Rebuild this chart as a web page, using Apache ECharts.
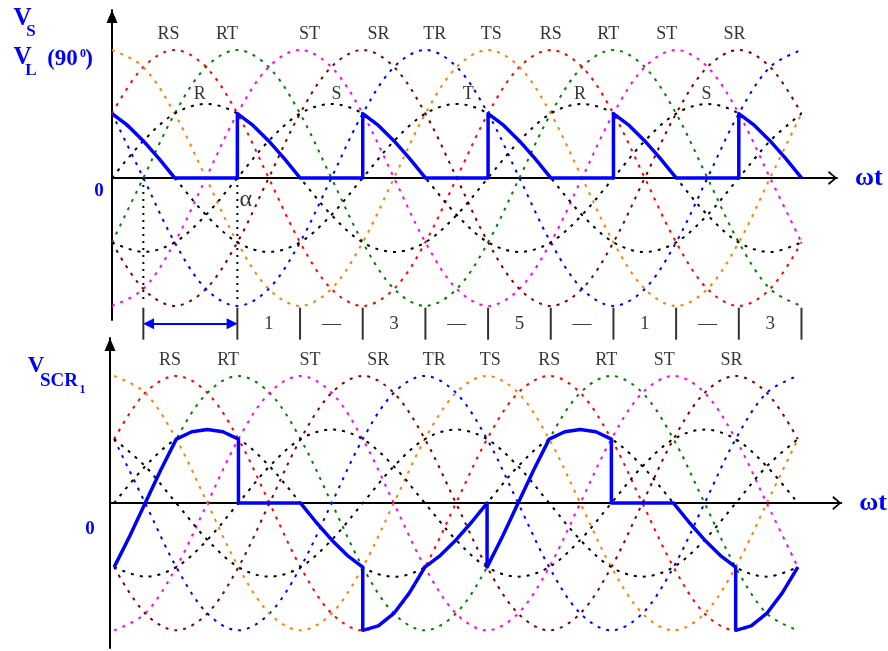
<!DOCTYPE html>
<html>
<head>
<meta charset="utf-8">
<script src="https://cdn.jsdelivr.net/npm/echarts@6/dist/echarts.min.js"></script>
<style>
  html, body { margin: 0; padding: 0; background: #ffffff; }
  #chart { width: 888px; height: 651px; }
</style>
</head>
<body>
<div id="chart"></div>
<script>
// Electrical angle samples (degrees) of the supply waveforms
const angles = [0, 30, 60, 90, 120, 150, 180, 210, 240, 270, 300, 330, 360, 390, 420, 450, 480, 510, 540, 570, 600, 630, 660];

// Line-to-line voltages (phase peak = 100)
const vRS = [87, 150, 173, 150, 87, 0, -87, -150, -173, -150, -87, 0, 87, 150, 173, 150, 87, 0, -87, -150, -173, -150, -87];
const vRT = [-87, 0, 87, 150, 173, 150, 87, 0, -87, -150, -173, -150, -87, 0, 87, 150, 173, 150, 87, 0, -87, -150, -173];
const vST = [-173, -150, -87, 0, 87, 150, 173, 150, 87, 0, -87, -150, -173, -150, -87, 0, 87, 150, 173, 150, 87, 0, -87];
const vSR = [-87, -150, -173, -150, -87, 0, 87, 150, 173, 150, 87, 0, -87, -150, -173, -150, -87, 0, 87, 150, 173, 150, 87];
const vTR = [87, 0, -87, -150, -173, -150, -87, 0, 87, 150, 173, 150, 87, 0, -87, -150, -173, -150, -87, 0, 87, 150, 173];
const vTS = [173, 150, 87, 0, -87, -150, -173, -150, -87, 0, 87, 150, 173, 150, 87, 0, -87, -150, -173, -150, -87, 0, 87];

// Phase voltages
const vR = [0, 50, 87, 100, 87, 50, 0, -50, -87, -100, -87, -50, 0, 50, 87, 100, 87, 50, 0, -50, -87, -100, -87];
const vS = [-87, -100, -87, -50, 0, 50, 87, 100, 87, 50, 0, -50, -87, -100, -87, -50, 0, 50, 87, 100, 87, 50, 0];
const vT = [87, 50, 0, -50, -87, -100, -87, -50, 0, 50, 87, 100, 87, 50, 0, -50, -87, -100, -87, -50, 0, 50, 87];

// Load voltage V_L, firing angle 90°
const loadAngles = [0, 15, 30, 45, 60, 120, 120, 135, 150, 165, 180, 240, 240, 255, 270, 285, 300, 360, 360, 375, 390, 405, 420, 480, 480, 495, 510, 525, 540, 600, 600, 615, 630, 645, 660];
const loadValues = [87, 71, 50, 26, 0, 0, 87, 71, 50, 26, 0, 0, 87, 71, 50, 26, 0, 0, 87, 71, 50, 26, 0, 0, 87, 71, 50, 26, 0, 0, 87, 71, 50, 26, 0];

// Voltage across SCR1
const scrAngles = [0, 15, 30, 45, 60, 75, 90, 105, 120, 120, 180, 195, 210, 225, 240, 240, 255, 270, 285, 300, 315, 330, 345, 360, 360, 375, 390, 405, 420, 435, 450, 465, 480, 480, 540, 555, 570, 585, 600, 600, 615, 630, 645, 660];
const scrValues = [-87, -45, 0, 45, 87, 97, 100, 97, 87, 0, 0, -26, -50, -71, -87, -173, -167, -150, -122, -87, -71, -50, -26, 0, -87, -45, 0, 45, 87, 97, 100, 97, 87, 0, 0, -26, -50, -71, -87, -173, -167, -150, -122, -87];

// Curve names
const lineNames = ['RS', 'RT', 'ST', 'SR', 'TR', 'TS', 'RS', 'RT', 'ST', 'SR'];
const lineNameAngles = [54, 110, 189, 255, 309, 363, 420, 475, 531, 596];
const phaseNames = ['R', 'S', 'T', 'R', 'S'];
const phaseNameAngles = [84, 215, 341, 448, 569];

// Conducting-thyristor sequence under the load waveform
const intervalTicks = [30, 120, 180, 240, 300, 360, 420, 480, 540, 600, 660];
const intervalLabels = ['1', '—', '3', '—', '5', '—', '1', '—', '3'];
const intervalLabelAngles = [150, 210, 270, 330, 390, 450, 510, 570, 630];

// Natural commutation point and firing point of SCR1
const commutationAngle = 30;
const firingAngle = 120;

const serif = '"Liberation Serif", "Times New Roman", serif';
const BLUE = '#0000ff';

const curveStyles = [
  { data: vRS, color: '#ff0000' },
  { data: vRT, color: '#008000' },
  { data: vST, color: '#ff00ff' },
  { data: vSR, color: '#800000' },
  { data: vTR, color: '#0000ff' },
  { data: vTS, color: '#ff8000' },
  { data: vR, color: '#000000' },
  { data: vS, color: '#000000' },
  { data: vT, color: '#000000' }
];

// Panel layout: top = V_S / V_L, bottom = V_SCR1
const panels = [
  { left: 112, top: 10, width: 725, height: 310, xMin: 0, xMax: 694, yMin: -192, yMax: 227 },
  { left: 110, top: 338, width: 738, height: 310, xMin: -4, xMax: 702, yMin: -197, yMax: 224.5 }
];

const chevron = 'path://M0,8 L7,0 L14,8 L12.4,9 L7,2.4 L1.6,9 Z';

const grid = panels.map(p => ({ left: p.left, top: p.top, width: p.width, height: p.height }));

const xAxis = panels.map((p, i) => ({
  type: 'value', gridIndex: i, min: p.xMin, max: p.xMax,
  axisLine: {
    show: true, onZero: true,
    lineStyle: { color: '#000', width: 2 },
    symbol: ['none', chevron], symbolSize: [14, 9], symbolOffset: [0, -4.5]
  },
  axisTick: { show: false }, axisLabel: { show: false }, splitLine: { show: false },
  name: 'ωt', nameLocation: 'end', nameGap: 18,
  nameTextStyle: { color: BLUE, fontFamily: serif, fontWeight: 'bold', fontSize: 26 }
}));

const yAxis = panels.map((p, i) => ({
  type: 'value', gridIndex: i, min: p.yMin, max: p.yMax,
  axisLine: {
    show: true, onZero: false,
    lineStyle: { color: '#000', width: 2 },
    symbol: ['none', 'triangle'], symbolSize: [11, 13], symbolOffset: [0, -6.5]
  },
  axisTick: { show: false }, axisLabel: { show: false }, splitLine: { show: false }
}));

const series = [];

// Dotted supply waveforms in both panels
panels.forEach((p, i) => {
  curveStyles.forEach(c => {
    series.push({
      type: 'line', xAxisIndex: i, yAxisIndex: i,
      data: angles.map((a, k) => [a, c.data[k]]),
      smooth: 0.34, symbol: 'none', silent: true, z: 2,
      lineStyle: { color: c.color, width: 2, type: [3, 6] }
    });
  });
});

// Vertical guides at the commutation and firing points
[commutationAngle, firingAngle].forEach(a => {
  series.push({
    type: 'line', xAxisIndex: 0, yAxisIndex: 0,
    data: [[a, 0], [a, -165]], symbol: 'none', silent: true, z: 2,
    lineStyle: { color: '#000', width: 2, type: [2, 5] }
  });
});

// Load voltage V_L
series.push({
  type: 'line', xAxisIndex: 0, yAxisIndex: 0,
  data: loadAngles.map((a, k) => [a, loadValues[k]]),
  symbol: 'none', silent: true, z: 5,
  lineStyle: { color: BLUE, width: 3.5, join: 'round' }
});

// Voltage across SCR1
series.push({
  type: 'line', xAxisIndex: 1, yAxisIndex: 1,
  data: scrAngles.map((a, k) => [a, scrValues[k]]),
  symbol: 'none', silent: true, z: 5,
  lineStyle: { color: BLUE, width: 3.5, join: 'round' }
});

// Curve names above both panels
const textLabel = (size, color) => ({
  show: true, position: 'inside', formatter: '{b}',
  color: color || '#000', fontFamily: serif, fontSize: size
});

panels.forEach((p, i) => {
  series.push({
    type: 'scatter', xAxisIndex: i, yAxisIndex: i, clip: false, silent: true, z: 6,
    symbolSize: 1, itemStyle: { color: 'rgba(0,0,0,0)' },
    data: lineNames.map((n, k) => ({ name: n, value: [lineNameAngles[k], 194] })),
    label: textLabel(18)
  });
});

// Phase names and the firing-angle symbol in the top panel
series.push({
  type: 'scatter', xAxisIndex: 0, yAxisIndex: 0, clip: false, silent: true, z: 6,
  symbolSize: 1, itemStyle: { color: 'rgba(0,0,0,0)' },
  data: phaseNames.map((n, k) => ({ name: n, value: [phaseNameAngles[k], 113] })),
  label: textLabel(18)
});
series.push({
  type: 'scatter', xAxisIndex: 0, yAxisIndex: 0, clip: false, silent: true, z: 6,
  symbolSize: 1, itemStyle: { color: 'rgba(0,0,0,0)' },
  data: [{ name: 'α', value: [firingAngle + 8, -30] }],
  label: textLabel(24)
});

// Conduction sequence row: separators and thyristor numbers
series.push({
  type: 'scatter', xAxisIndex: 0, yAxisIndex: 0, clip: false, silent: true, z: 6,
  symbol: 'rect', symbolSize: [2, 32], itemStyle: { color: '#000' },
  data: intervalTicks.map(a => [a, -197])
});
series.push({
  type: 'scatter', xAxisIndex: 0, yAxisIndex: 0, clip: false, silent: true, z: 6,
  symbolSize: 1, itemStyle: { color: 'rgba(0,0,0,0)' },
  data: intervalLabels.map((n, k) => ({ name: n, value: [intervalLabelAngles[k], -198] })),
  label: textLabel(19)
});

// Double arrow spanning the firing delay
series.push({
  type: 'lines', coordinateSystem: 'cartesian2d', xAxisIndex: 0, yAxisIndex: 0,
  clip: false, silent: true, z: 6,
  symbol: ['triangle', 'triangle'], symbolSize: 11,
  lineStyle: { color: BLUE, width: 2, opacity: 1 },
  data: [{ coords: [[commutationAngle + 5, -197], [firingAngle - 5, -197]] }]
});

const txt = (text, x, y, size) => ({
  type: 'text', x: x, y: y, silent: true,
  style: {
    text: text, fill: BLUE, align: 'center', verticalAlign: 'middle',
    font: 'bold ' + size + 'px ' + serif
  }
});

const option = {
  animation: false,
  backgroundColor: '#ffffff',
  grid: grid,
  xAxis: xAxis,
  yAxis: yAxis,
  series: series,
  graphic: [
    txt('V', 22.5, 19, 25),
    txt('S', 31, 31.5, 17),
    txt('V', 22.5, 57.5, 25),
    txt('L', 31, 71, 17),
    txt('(90', 62.5, 59, 23),
    txt('0', 83, 54, 12),
    txt(')', 89, 59.5, 23),
    txt('0', 99, 191.5, 19),
    txt('V', 36, 366, 23),
    txt('SCR', 59, 381, 19),
    txt('1', 82.5, 390, 12),
    txt('0', 90, 529.5, 19)
  ]
};

const chart = echarts.init(document.getElementById('chart'), null, { renderer: 'canvas' });
chart.setOption(option);
</script>
</body>
</html>
